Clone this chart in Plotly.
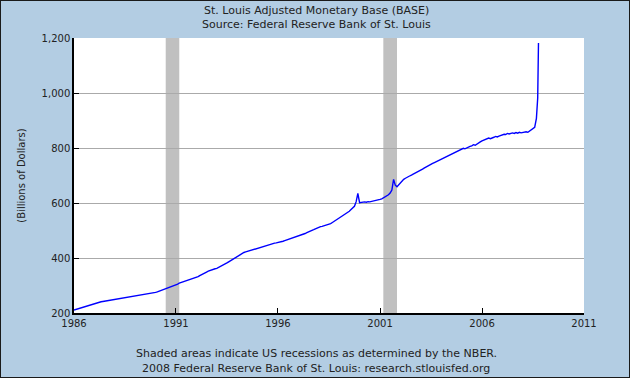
import plotly.graph_objects as go

# Monthly values (billions of dollars), Jan 1986 .. Sep 2008, then two late-2008 readings
v1986 = [211, 213, 215, 217, 219, 221, 223, 225, 227, 229, 231, 234]
v1987 = [236, 237, 238, 240, 241, 242, 243, 244, 245, 246, 247, 249]
v1988 = [250, 251, 252, 253, 254, 255, 256, 257, 258, 259, 260, 261]
v1989 = [262, 263, 264, 265, 265, 266, 267, 268, 269, 271, 272, 274]
v1990 = [275, 277, 279, 281, 283, 285, 287, 290, 292, 294, 296, 299]
v1991 = [302, 305, 309, 311, 312, 314, 316, 318, 320, 322, 324, 326]
v1992 = [329, 332, 336, 340, 343, 346, 349, 352, 355, 358, 360, 361]
v1993 = [362, 365, 368, 371, 375, 378, 382, 386, 390, 394, 398, 401]
v1994 = [405, 409, 413, 417, 420, 422, 424, 426, 428, 429, 431, 433]
v1995 = [435, 437, 439, 441, 443, 445, 447, 449, 450, 452, 454, 455]
v1996 = [456, 457, 459, 461, 463, 465, 467, 469, 472, 474, 477, 479]
v1997 = [481, 483, 485, 487, 489, 492, 494, 497, 500, 503, 506, 509]
v1998 = [513, 514, 515, 517, 518, 520, 522, 525, 529, 533, 537, 541]
v1999 = [545, 549, 553, 556, 560, 565, 570, 576, 581, 588, 605, 635]
v2000 = [601, 603, 602, 604, 603, 605, 604, 606, 607, 608, 610, 612]
v2001 = [613, 615, 618, 622, 626, 630, 636, 647, 686, 665, 659, 666]
v2002 = [673, 681, 686, 690, 694, 697, 700, 703, 706, 710, 713, 716]
v2003 = [719, 723, 727, 731, 735, 738, 742, 744, 747, 750, 753, 756]
v2004 = [759, 762, 765, 769, 772, 775, 778, 781, 784, 788, 791, 794]
v2005 = [797, 799, 797, 801, 803, 806, 808, 812, 810, 815, 818, 822]
v2006 = [826, 829, 832, 835, 836, 834, 838, 839, 842, 840, 843, 846]
v2007 = [848, 850, 849, 853, 851, 852, 855, 853, 856, 854, 857, 855]
v2008 = [856, 858, 859, 857, 861, 866, 872, 875, 908]
late_dates = ["2008-09-24", "2008-10-08"]
late_values = [982, 1182]

recession_starts = ["1990-07-01", "2001-03-01"]
recession_ends = ["1991-03-01", "2001-11-01"]

x_tick_labels = ["1986", "1991", "1996", "2001", "2006", "2011"]
y_tick_values = [200, 400, 600, 800, 1000, 1200]

yearly = [v1986, v1987, v1988, v1989, v1990, v1991, v1992, v1993, v1994, v1995,
          v1996, v1997, v1998, v1999, v2000, v2001, v2002, v2003, v2004, v2005,
          v2006, v2007, v2008]
dates, values = [], []
for i, vals in enumerate(yearly):
    yr = 1986 + i
    for m, v in enumerate(vals):
        dates.append(f"{yr}-{m + 1:02d}-01")
        values.append(v)
dates += late_dates
values += late_values

FONT = "DejaVu Sans"
TXT = "#222222"

fig = go.Figure()
fig.add_trace(go.Scatter(x=dates, y=values, mode="lines",
                         line=dict(color="#0000FF", width=1.4), hoverinfo="skip"))

for s, e in zip(recession_starts, recession_ends):
    fig.add_shape(type="rect", xref="x", yref="y", x0=s, x1=e, y0=200, y1=1200,
                  fillcolor="#C0C0C0", line=dict(width=0), layer="below")

fig.update_layout(
    width=630, height=378,
    margin=dict(l=74, r=46, t=38, b=65),
    paper_bgcolor="#B3CDE3", plot_bgcolor="#FFFFFF",
    showlegend=False,
    font=dict(family=FONT, size=10, color=TXT),
)
fig.update_xaxes(
    type="date", range=["1986-01-01", "2011-01-01"],
    tickvals=[f"{t}-01-01" for t in x_tick_labels], ticktext=x_tick_labels,
    ticks="inside", ticklen=5, tickcolor="#000000", tickwidth=1,
    showline=True, linecolor="#000000", linewidth=1.5,
    showgrid=False, zeroline=False,
    tickfont=dict(family=FONT, size=10, color=TXT),
)
fig.update_yaxes(
    range=[200, 1200], tickvals=y_tick_values,
    ticktext=[f"{v:,}" for v in y_tick_values],
    ticks="inside", ticklen=5, tickcolor="#000000", tickwidth=1,
    showline=True, linecolor="#000000", linewidth=1.5,
    showgrid=True, gridcolor="#AAAAAA", gridwidth=1, zeroline=False,
    tickfont=dict(family=FONT, size=10, color=TXT),
    title=dict(text="(Billions of Dollars)", font=dict(family=FONT, size=10, color=TXT),
               standoff=14),
)

fig.add_annotation(text="St. Louis Adjusted Monetary Base (BASE)", xref="paper", yref="paper",
                   x=0.475, y=1, yshift=28, showarrow=False, xanchor="center", yanchor="middle",
                   font=dict(family=FONT, size=11, color=TXT))
fig.add_annotation(text="Source: Federal Reserve Bank of St. Louis", xref="paper", yref="paper",
                   x=0.475, y=1, yshift=14, showarrow=False, xanchor="center", yanchor="middle",
                   font=dict(family=FONT, size=11, color=TXT))
fig.add_annotation(text="Shaded areas indicate US recessions as determined by the NBER.",
                   xref="paper", yref="paper", x=0.475, y=0, yshift=-40, showarrow=False,
                   xanchor="center", yanchor="middle", font=dict(family=FONT, size=11, color=TXT))
fig.add_annotation(text="2008 Federal Reserve Bank of St. Louis: research.stlouisfed.org",
                   xref="paper", yref="paper", x=0.475, y=0, yshift=-55, showarrow=False,
                   xanchor="center", yanchor="middle", font=dict(family=FONT, size=11, color=TXT))

# outer frame
fig.add_shape(type="rect", xref="paper", yref="paper", x0=-74 / 510, x1=1 + 46 / 510,
              y0=-65 / 275, y1=1 + 38 / 275, line=dict(color="#1A1A1A", width=2),
              fillcolor="rgba(0,0,0,0)", layer="above")

fig.write_html("out.html", config={"displayModeBar": False},
               post_script="document.body.style.margin='0';document.body.style.overflow='hidden';")
